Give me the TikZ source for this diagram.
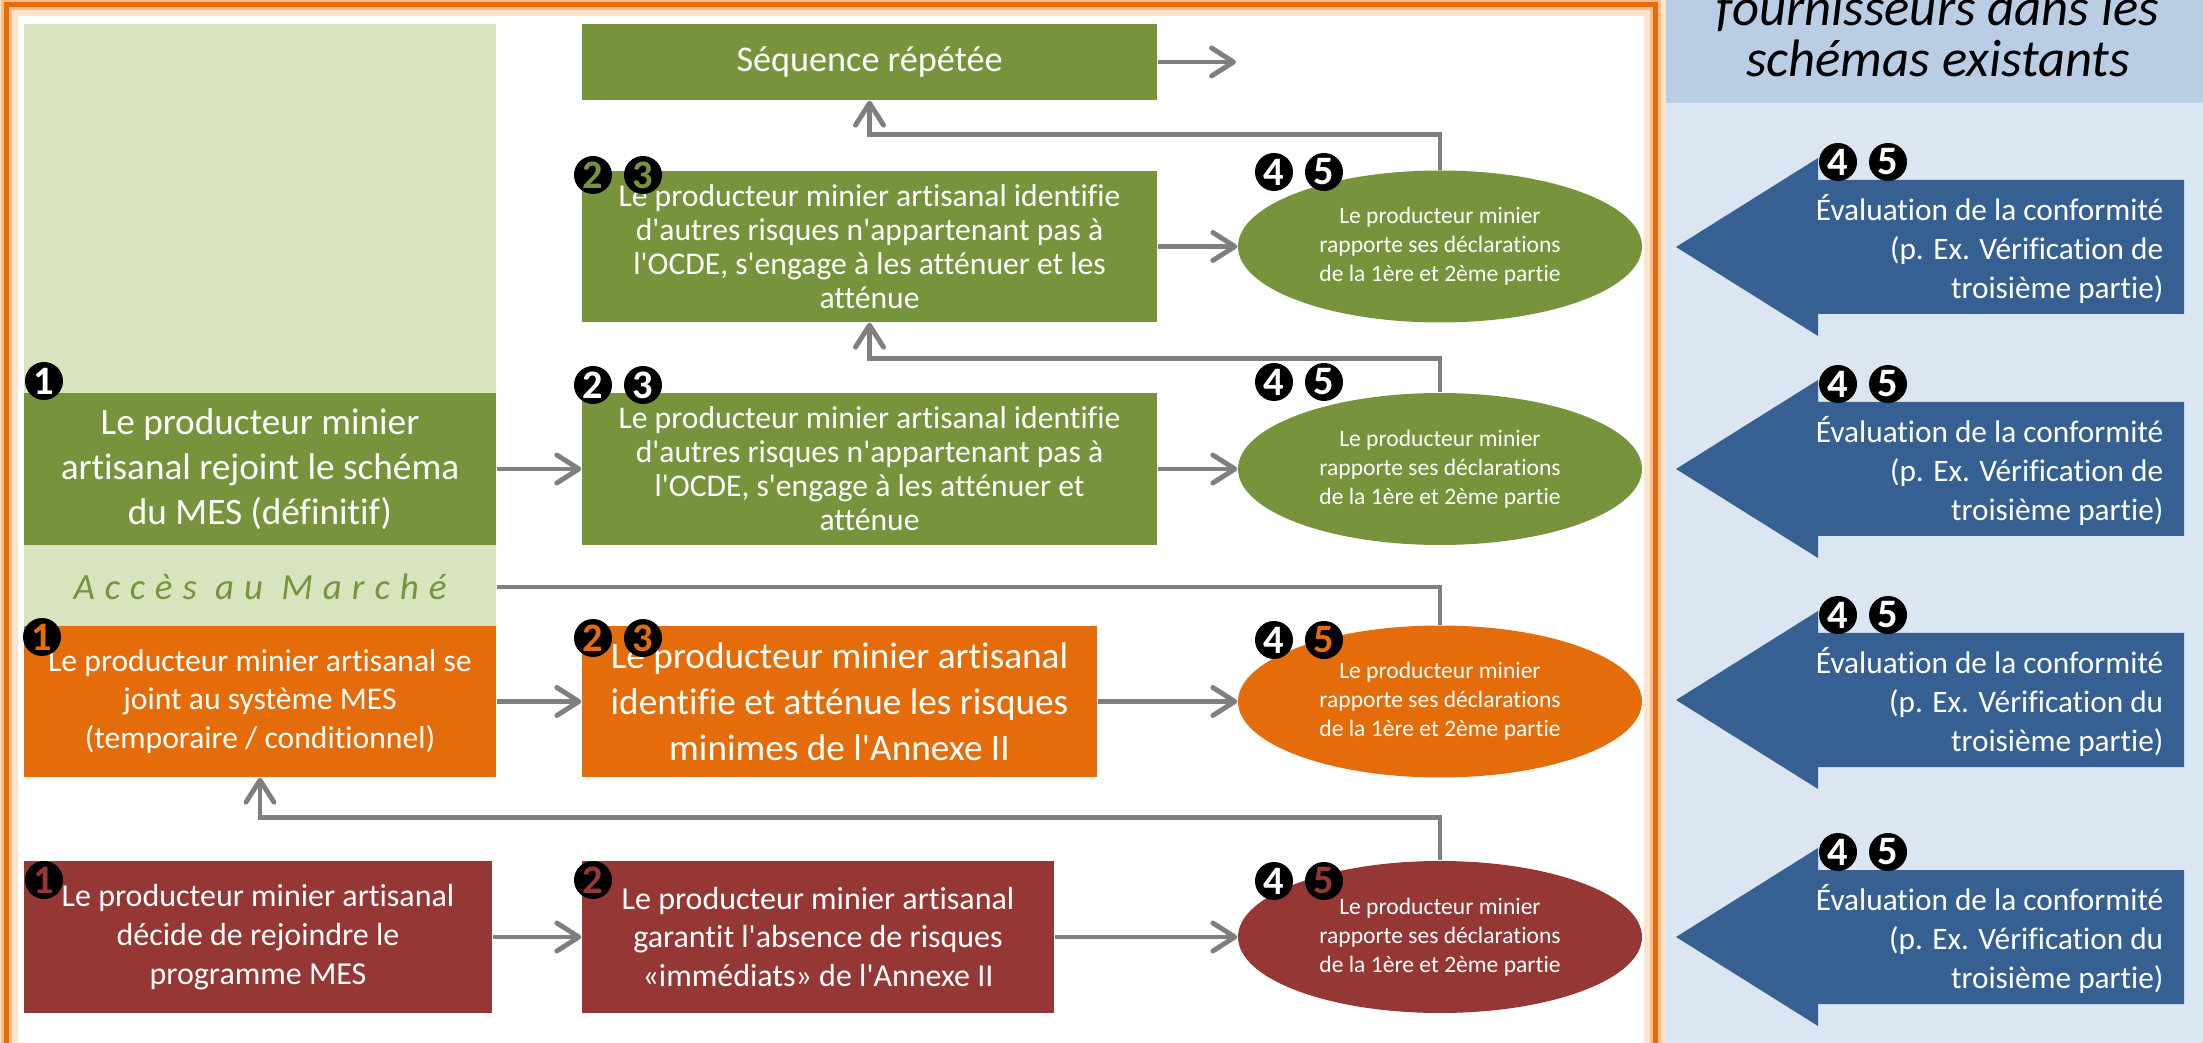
\documentclass[tikz,border=0pt]{standalone}
\usepackage{fontspec}
\setmainfont{Carlito}[Ligatures={TeXOff,CommonOff}]
\newfontfamily\spacedfont[LetterSpace=27,Ligatures={TeXOff,CommonOff}]{Carlito}
\usetikzlibrary{shapes.geometric, arrows.meta, positioning, calc}
\definecolor{mes_green}{RGB}{119,147,60}
\definecolor{mes_lightgreen}{RGB}{215,228,189}
\definecolor{mes_orange}{RGB}{228,108,10}
\definecolor{mes_red}{RGB}{149,55,53}
\definecolor{mes_blue}{RGB}{55,96,146}
\definecolor{link_gray}{RGB}{127,127,127}
\definecolor{panel_blue}{RGB}{220,230,242}
\definecolor{head_blue}{RGB}{185,205,229}
\definecolor{glow_light}{RGB}{253,228,207}
\definecolor{glow_mid}{RGB}{249,190,140}

\tikzset{
    box/.style={rectangle, inner sep=0pt, text=white, align=center},
    report/.style={ellipse, inner sep=0pt, minimum width=4.04cm, minimum height=1.52cm,
        text=white, align=center, font=\fontsize{6.7}{8.2}\selectfont},
    badge/.style={circle, fill=black, inner sep=0pt, minimum size=0.38cm, text=white,
        font=\bfseries\fontsize{11.5}{11.5}\selectfont},
    link/.style={draw=link_gray, line width=1.4pt, -{Straight Barb[length=2.2mm, width=2.8mm, round]}},
    plainlink/.style={draw=link_gray, line width=1.4pt},
}

\begin{document}
\begin{tikzpicture}
    \useasboundingbox (0,0) rectangle (22.03,-10.43);
    \fill[white] (0,0) rectangle (22.03,-10.43);

    % right panel
    \fill[panel_blue] (16.64,0) rectangle (22.03,-10.43);
    \fill[head_blue] (16.64,0) rectangle (22.03,-1.03);
    \node[anchor=south, align=center, inner sep=0pt, font=\itshape\fontsize{15}{14.5}\selectfont] (head) at (19.38,-0.78) {fournisseurs dans les\\schémas existants};

    % orange frame
    \draw[glow_light, line width=0.22cm] (0.065,-0.05) rectangle (16.55,-10.56);
    \draw[glow_mid, line width=0.11cm] (0.065,-0.05) rectangle (16.55,-10.56);
    \draw[mes_orange, line width=0.05cm] (0.065,-0.05) rectangle (16.55,-10.56);

    % first column
    \node[fill=mes_lightgreen, minimum width=4.72cm, minimum height=6.02cm, inner sep=0pt] (market) at (2.60,-3.25) {};
    \node[box, fill=mes_green, minimum width=4.72cm, minimum height=1.52cm, font=\fontsize{10.6}{12.8}\selectfont] (join) at (2.60,-4.69) {Le producteur minier\\artisanal rejoint le schéma\\du MES (définitif)};
    \node[minimum width=4.72cm, inner sep=0pt, text=mes_green, font=\spacedfont\itshape\fontsize{10.5}{12}\selectfont] (acces) at (2.60,-5.87) {Accès au Marché};
    \node[box, fill=mes_orange, minimum width=4.72cm, minimum height=1.51cm, font=\fontsize{9}{11}\selectfont] (temp) at (2.60,-7.015) {Le producteur minier artisanal se\\joint au système MES\\(temporaire / conditionnel)};
    \node[box, fill=mes_red, minimum width=4.68cm, minimum height=1.52cm, font=\fontsize{9.1}{11}\selectfont] (decide) at (2.58,-9.37) {Le producteur minier artisanal\\décide de rejoindre le\\programme MES};

    % second column
    \node[box, fill=mes_green, minimum width=5.75cm, minimum height=0.76cm, font=\fontsize{10.3}{12}\selectfont] (seq) at (8.695,-0.62) {Séquence répétée};
    \node[box, fill=mes_green, minimum width=5.75cm, minimum height=1.51cm, font=\fontsize{9}{9.7}\selectfont] (riskA) at (8.695,-2.465) {Le producteur minier artisanal identifie\\d'autres risques n'appartenant pas à\\l'OCDE, s'engage à les atténuer et les\\atténue};
    \node[box, fill=mes_green, minimum width=5.75cm, minimum height=1.52cm, font=\fontsize{9}{9.7}\selectfont] (riskB) at (8.695,-4.69) {Le producteur minier artisanal identifie\\d'autres risques n'appartenant pas à\\l'OCDE, s'engage à les atténuer et\\atténue};
    \node[box, fill=mes_orange, minimum width=5.15cm, minimum height=1.51cm, font=\fontsize{10.6}{13.1}\selectfont] (riskO) at (8.395,-7.015) {Le producteur minier artisanal\\identifie et atténue les risques\\minimes de l'Annexe II};
    \node[box, fill=mes_red, minimum width=4.72cm, minimum height=1.52cm, font=\fontsize{9.1}{10.9}\selectfont] (riskR) at (8.18,-9.37) {Le producteur minier artisanal\\garantit l'absence de risques\\«immédiats» de l'Annexe II};

    % reports
    \node[report, fill=mes_green] (e1) at (14.40,-2.465) {Le producteur minier\\rapporte ses déclarations\\de la 1ère et 2ème partie};
    \node[report, fill=mes_green] (e2) at (14.40,-4.69) {Le producteur minier\\rapporte ses déclarations\\de la 1ère et 2ème partie};
    \node[report, fill=mes_orange] (e3) at (14.40,-7.015) {Le producteur minier\\rapporte ses déclarations\\de la 1ère et 2ème partie};
    \node[report, fill=mes_red] (e4) at (14.40,-9.37) {Le producteur minier\\rapporte ses déclarations\\de la 1ère et 2ème partie};
    \coordinate (seqout) at (12.36,-0.62);

    % numbers
    \node[badge] (n1a) at (0.44,-3.81) {1};
    \node[badge, text=mes_orange] (n1b) at (0.42,-6.37) {1};
    \node[badge, text=mes_red] (n1c) at (0.44,-8.80) {1};
    \node[badge, text=mes_green] (n2a) at (5.93,-1.75) {2};
    \node[badge, text=mes_green] (n3a) at (6.43,-1.75) {3};
    \node[badge] (n2b) at (5.93,-3.85) {2};
    \node[badge] (n3b) at (6.43,-3.85) {3};
    \node[badge, text=mes_orange] (n2c) at (5.93,-6.38) {2};
    \node[badge, text=mes_orange] (n3c) at (6.43,-6.38) {3};
    \node[badge, text=mes_red] (n2d) at (5.93,-8.80) {2};
    \node[badge] (n4a) at (12.74,-1.72) {4};
    \node[badge] (n5a) at (13.24,-1.72) {5};
    \node[badge] (n4b) at (12.74,-3.82) {4};
    \node[badge] (n5b) at (13.24,-3.82) {5};
    \node[badge] (n4c) at (12.74,-6.40) {4};
    \node[badge, text=mes_orange] (n5c) at (13.24,-6.40) {5};
    \node[badge] (n4d) at (12.74,-8.81) {4};
    \node[badge, text=mes_red] (n5d) at (13.24,-8.81) {5};

    % connectors
    \draw[link] (seq) -- (seqout);
    \draw[link] (riskA) -- (e1);
    \draw[link] (join) -- (riskB);
    \draw[link] (riskB) -- (e2);
    \draw[link] (temp) -- (riskO);
    \draw[link] (riskO) -- (e3);
    \draw[link] (decide) -- (riskR);
    \draw[link] (riskR) -- (e4);
    \draw[link] (e1.north) -- ++(0,0.35) -| (seq.south);
    \draw[link] (e2.north) -- ++(0,0.34) -| (riskA.south);
    \draw[plainlink] (e3.north) |- (acces.east);
    \draw[link] (e4.north) -- ++(0,0.43) -| (temp.south);

    % conformity arrows
    \foreach \cy/\w [count=\i] in {2.47/de, 4.69/de, 7.00/du, 9.37/du} {
        \fill[mes_blue] (16.76,-\cy) -- (18.18,{-\cy+0.89}) -- (18.18,{-\cy+0.67}) -- (21.84,{-\cy+0.67})
            -- (21.84,{-\cy-0.67}) -- (18.18,{-\cy-0.67}) -- (18.18,{-\cy-0.89}) -- cycle;
        \node[anchor=east, align=right, inner sep=0pt, text=white, font=\fontsize{8.9}{11}\selectfont] (eval\i) at (21.64,{-\cy-0.02}) {Évaluation de la conformité\\(p. Ex. Vérification \w\\troisième partie)};
        \node[badge] (qa\i) at (18.38,{-\cy+0.85}) {4};
        \node[badge] (qb\i) at (18.88,{-\cy+0.85}) {5};
    }
\end{tikzpicture}
\end{document}
